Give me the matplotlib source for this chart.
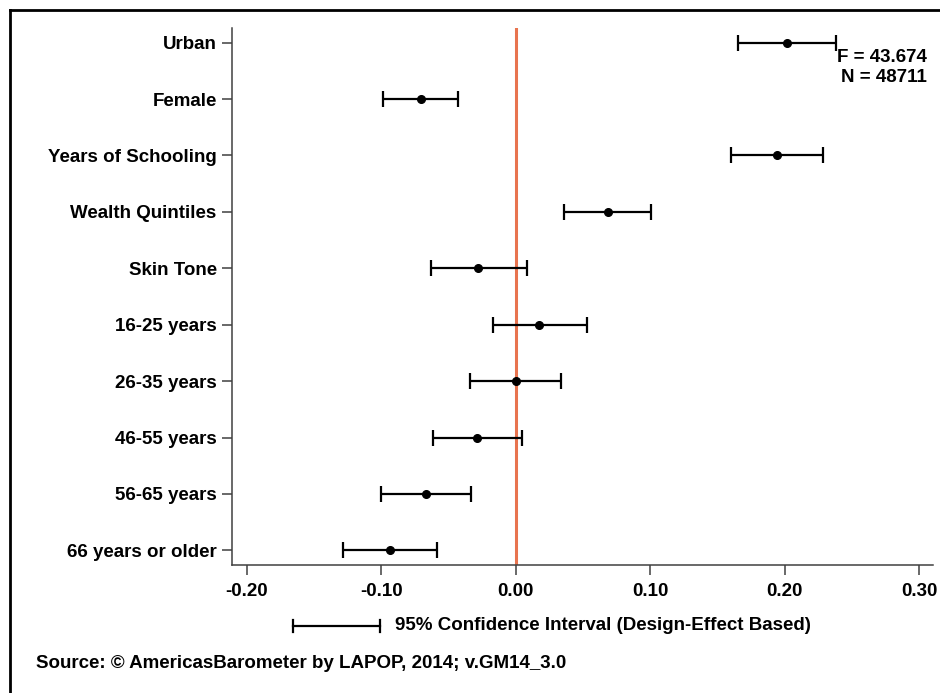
import matplotlib.pyplot as plt
from matplotlib.lines import Line2D

plt.rcParams['font.family'] = ['Liberation Sans', 'DejaVu Sans']
plt.rcParams['font.weight'] = 'bold'

labels = ["Urban", "Female", "Years of Schooling", "Wealth Quintiles", "Skin Tone",
          "16-25 years", "26-35 years", "46-55 years", "56-65 years", "66 years or older"]
coef = [0.2015, -0.0706, 0.194, 0.0684, -0.028, 0.0176, 0.0002, -0.0285, -0.0664, -0.0934]
ci_low = [0.1656, -0.0987, 0.160, 0.0359, -0.0632, -0.0169, -0.034, -0.0615, -0.1004, -0.1281]
ci_high = [0.2379, -0.0426, 0.2285, 0.1006, 0.0082, 0.0528, 0.034, 0.005, -0.0335, -0.0587]
xticks = [-0.20, -0.10, 0.00, 0.10, 0.20, 0.30]
f_stat = "43.674"
n_obs = "48711"

FS = 13.5
W, H = 940, 693
fig = plt.figure(figsize=(W / 100, H / 100), dpi=100)
ax = fig.add_axes([232 / W, 1 - 565 / H, (933 - 232) / W, (565 - 28) / H])

ypos = list(range(len(labels)))[::-1]
err_lo = [c - lo for c, lo in zip(coef, ci_low)]
err_hi = [hi - c for c, hi in zip(coef, ci_high)]

ax.axvline(0, color="#E8744F", lw=2.2, zorder=1)
ax.errorbar(coef, ypos, xerr=[err_lo, err_hi], fmt="o", color="black",
            ms=5.5, elinewidth=1.6, capsize=5.5, capthick=1.6, zorder=3)

ax.set_xlim(-0.211, 0.3104)
ax.set_ylim(-0.26, 9.26)
ax.set_yticks(ypos)
ax.set_yticklabels(labels, fontsize=FS, fontweight="bold")
ax.set_xticks(xticks)
ax.set_xticklabels([f"{t:.2f}" for t in xticks], fontsize=FS, fontweight="bold")
ax.tick_params(axis="both", length=7, width=1.1, color="#404040")
ax.tick_params(axis="y", pad=4)
ax.tick_params(axis="x", pad=6)
for side in ["top", "right"]:
    ax.spines[side].set_visible(False)
for side in ["left", "bottom"]:
    ax.spines[side].set_color("#404040")
    ax.spines[side].set_linewidth(1.1)

ax.text(927 / W, 1 - 58 / H, f"F = {f_stat}", transform=fig.transFigure,
        ha="right", va="center", fontsize=FS, fontweight="bold")
ax.text(927 / W, 1 - 78 / H, f"N = {n_obs}", transform=fig.transFigure,
        ha="right", va="center", fontsize=FS, fontweight="bold")

# legend-style confidence interval key
ly = 1 - 626 / H
x0, x1 = 293 / W, 380 / W
fig.add_artist(Line2D([x0, x1], [ly, ly], color="black", lw=1.6))
for xx in (x0, x1):
    fig.add_artist(Line2D([xx, xx], [ly - 6 / H, ly + 6 / H], color="black", lw=1.6))
fig.text(395 / W, ly, "95% Confidence Interval (Design-Effect Based)",
         ha="left", va="center", fontsize=FS, fontweight="bold")

fig.text(36 / W, 1 - 664 / H, "Source: \u00a9 AmericasBarometer by LAPOP, 2014; v.GM14_3.0",
         ha="left", va="center", fontsize=FS, fontweight="bold")

# outer frame
fig.add_artist(Line2D([10 / W, 1], [1 - 10 / H, 1 - 10 / H], color="black", lw=2))
fig.add_artist(Line2D([10 / W, 10 / W], [1 - 10 / H, 0], color="black", lw=2))

fig.savefig("out.png", dpi=100)
